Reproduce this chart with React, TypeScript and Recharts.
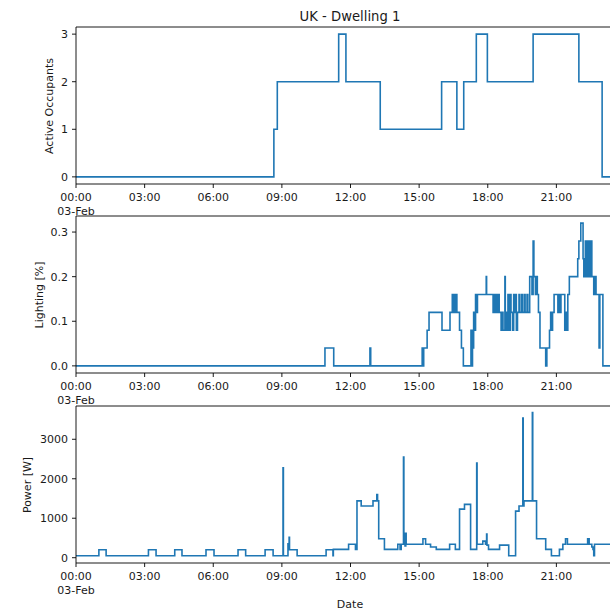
import { LineChart, Line, XAxis, YAxis, ReferenceLine } from "recharts";

// step data: [time "HH:MM", value] — each value holds until the next time
const occupants: [string, number][] = [
  ["00:00", 0], ["08:39", 1], ["08:48", 2], ["11:29", 3], ["11:48", 2],
  ["13:18", 1], ["15:59", 2], ["16:39", 1], ["16:57", 2], ["17:30", 3],
  ["17:59", 2], ["19:59", 3], ["21:59", 2], ["23:00", 0], ["24:00", 0],
];

const lighting: [string, number][] = [
  ["00:00", 0], ["10:53", 0.04], ["11:16", 0], ["12:51", 0.04], ["12:53", 0],
  ["15:08", 0.04], ["15:10", 0], ["15:12", 0.04], ["15:21", 0.08], ["15:26", 0.12],
  ["16:00", 0.08], ["16:21", 0.12], ["16:27", 0.16], ["16:29", 0.12], ["16:32", 0.16],
  ["16:34", 0.12], ["16:37", 0.16], ["16:39", 0.12], ["16:46", 0.08], ["16:51", 0.04],
  ["16:56", 0], ["17:16", 0.08], ["17:17", 0], ["17:20", 0.08], ["17:22", 0.04],
  ["17:23", 0.12], ["17:26", 0.08], ["17:28", 0.16], ["17:31", 0.12], ["17:33", 0.16],
  ["17:56", 0.2], ["17:57", 0.16], ["18:14", 0.12], ["18:16", 0.16], ["18:19", 0.12],
  ["18:21", 0.16], ["18:24", 0.12], ["18:27", 0.16], ["18:30", 0.12], ["18:35", 0.08],
  ["18:38", 0.12], ["18:40", 0.08], ["18:45", 0.2], ["18:46", 0.12], ["18:49", 0.08],
  ["18:53", 0.16], ["18:55", 0.08], ["18:59", 0.16], ["19:01", 0.12], ["19:05", 0.08],
  ["19:08", 0.16], ["19:10", 0.12], ["19:13", 0.16], ["19:15", 0.08], ["19:18", 0.12],
  ["19:22", 0.16], ["19:24", 0.12], ["19:29", 0.16], ["19:31", 0.12], ["19:36", 0.16],
  ["19:38", 0.12], ["19:43", 0.16], ["19:45", 0.12], ["19:50", 0.2], ["19:56", 0.16],
  ["19:59", 0.28], ["20:01", 0.2], ["20:05", 0.16], ["20:07", 0.2], ["20:10", 0.16],
  ["20:13", 0.12], ["20:17", 0.04], ["20:32", 0], ["20:35", 0.04], ["20:42", 0.08],
  ["20:45", 0.12], ["20:47", 0.08], ["20:50", 0.12], ["20:54", 0.16], ["21:04", 0.12],
  ["21:06", 0.16], ["21:10", 0.12], ["21:12", 0.16], ["21:22", 0.08], ["21:26", 0.12],
  ["21:28", 0.08], ["21:30", 0.16], ["21:34", 0.2], ["21:56", 0.24], ["21:59", 0.28],
  ["22:04", 0.32], ["22:10", 0.24], ["22:12", 0.2], ["22:16", 0.28], ["22:17", 0.2],
  ["22:21", 0.28], ["22:22", 0.2], ["22:26", 0.28], ["22:28", 0.2], ["22:32", 0.28],
  ["22:33", 0.2], ["22:38", 0.16], ["22:40", 0.2], ["22:44", 0.16], ["22:52", 0.04],
  ["22:54", 0.16], ["23:02", 0], ["24:00", 0],
];

const power: [string, number][] = [
  ["00:00", 50], ["01:00", 200], ["01:19", 50], ["03:10", 200], ["03:30", 50],
  ["04:19", 200], ["04:38", 50], ["05:41", 200], ["06:02", 50], ["07:05", 200],
  ["07:25", 50], ["08:16", 200], ["08:37", 50], ["09:03", 2280], ["09:04", 50],
  ["09:16", 350], ["09:19", 520], ["09:20", 200], ["09:40", 50], ["10:56", 200],
  ["11:14", 50], ["11:15", 210], ["11:55", 340], ["12:13", 210], ["12:17", 1440],
  ["12:28", 1310], ["12:59", 1440], ["13:09", 1600], ["13:11", 1440], ["13:14", 480],
  ["13:29", 210], ["14:04", 340], ["14:10", 210], ["14:13", 340], ["14:19", 2550],
  ["14:20", 340], ["14:21", 620], ["14:23", 300], ["14:25", 620], ["14:26", 340],
  ["15:10", 480], ["15:17", 340], ["15:30", 270], ["15:45", 210], ["16:20", 340],
  ["16:35", 210], ["16:46", 1230], ["16:59", 1350], ["17:15", 210], ["17:31", 2400],
  ["17:32", 340], ["17:47", 420], ["17:54", 340], ["17:57", 600], ["17:58", 320],
  ["18:02", 210], ["18:31", 320], ["18:55", 50], ["19:13", 1180], ["19:22", 1310],
  ["19:32", 3540], ["19:33", 1310], ["19:35", 1440], ["19:57", 3680], ["19:58", 1440],
  ["20:08", 480], ["20:32", 210], ["20:47", 50], ["21:08", 210], ["21:17", 340],
  ["21:24", 480], ["21:29", 340], ["22:22", 480], ["22:26", 340], ["22:33", 270],
  ["22:36", 210], ["22:38", 50], ["22:40", 340], ["24:00", 340],
];

const hourTicks = [0, 3, 6, 9, 12, 15, 18, 21];
const hourLabels = ["00:00", "03:00", "06:00", "09:00", "12:00", "15:00", "18:00", "21:00"];
const dateLabel = "03-Feb";

const BLUE = "#1f77b4";
const FONT = "DejaVu Sans";
const TXT = "#1a1a1a";

const toHours = (s: string) => {
  const [h, m] = s.split(":").map(Number);
  return h + m / 60;
};
const build = (rows: [string, number][]) => rows.map(([t, v]) => ({ t: toHours(t), v }));

function TimeTick(props: any) {
  const { x, y, payload } = props;
  const i = hourTicks.indexOf(payload.value);
  return (
    <text x={x} y={y + 13} textAnchor="middle" fontSize={11} fontFamily={FONT} fill={TXT}>
      <tspan x={x}>{hourLabels[i]}</tspan>
      {i === 0 && (
        <tspan x={x} dy={14}>
          {dateLabel}
        </tspan>
      )}
    </text>
  );
}

const PLOT_H = 157;

function Panel({
  top,
  rows,
  domain,
  ticks,
  fmt,
  label,
  labelX,
}: {
  top: number;
  rows: [string, number][];
  domain: [number, number];
  ticks: number[];
  fmt: (v: number) => string;
  label: string;
  labelX: number;
}) {
  const data = build(rows);
  return (
    <>
      <div style={{ position: "absolute", left: 0, top: top - 10 }}>
        <LineChart
          width={640}
          height={PLOT_H + 10 + 40}
          data={data}
          margin={{ top: 10, right: 15, bottom: 0, left: 0 }}
        >
          <XAxis
            dataKey="t"
            type="number"
            domain={[0, 24]}
            ticks={hourTicks}
            allowDataOverflow
            height={40}
            tickSize={4}
            tickMargin={0}
            tick={<TimeTick />}
            stroke="#000"
            axisLine={{ stroke: "#000", strokeWidth: 0.9 }}
            tickLine={{ stroke: "#000", strokeWidth: 0.9 }}
          />
          <YAxis
            type="number"
            domain={domain}
            ticks={ticks}
            allowDataOverflow
            width={76}
            tickSize={4}
            tickMargin={4}
            tickFormatter={fmt}
            tick={{ fontSize: 11, fontFamily: FONT, fill: TXT }}
            axisLine={{ stroke: "#000", strokeWidth: 0.9 }}
            tickLine={{ stroke: "#000", strokeWidth: 0.9 }}
          />
          <ReferenceLine y={domain[1]} stroke="#000" strokeWidth={0.9} />
          <Line
            type="stepAfter"
            dataKey="v"
            stroke={BLUE}
            strokeWidth={1.6}
            dot={false}
            isAnimationActive={false}
          />
        </LineChart>
      </div>
      <div
        style={{
          position: "absolute",
          left: labelX,
          top: top + PLOT_H / 2,
          transform: "translate(-50%, -50%) rotate(-90deg)",
          whiteSpace: "nowrap",
          fontFamily: FONT,
          fontSize: 11,
          color: TXT,
        }}
      >
        {label}
      </div>
    </>
  );
}

export default function App() {
  return (
    <div
      style={{
        position: "absolute",
        left: 0,
        top: 0,
        width: 610,
        height: 610,
        overflow: "hidden",
        background: "#fff",
      }}
    >
      <div
        style={{
          position: "absolute",
          left: 350,
          top: 16,
          transform: "translate(-50%, -50%)",
          whiteSpace: "nowrap",
          fontFamily: FONT,
          fontSize: 13.2,
          color: TXT,
        }}
      >
        UK - Dwelling 1
      </div>
      <Panel
        top={27}
        rows={occupants}
        domain={[-0.15, 3.15]}
        ticks={[0, 1, 2, 3]}
        fmt={(v) => String(v)}
        label="Active Occupants"
        labelX={49}
      />
      <Panel
        top={216}
        rows={lighting}
        domain={[-0.016, 0.336]}
        ticks={[0, 0.1, 0.2, 0.3]}
        fmt={(v) => v.toFixed(1)}
        label="Lighting [%]"
        labelX={39}
      />
      <Panel
        top={406}
        rows={power}
        domain={[-134, 3843]}
        ticks={[0, 1000, 2000, 3000]}
        fmt={(v) => String(v)}
        label="Power [W]"
        labelX={27}
      />
      <div
        style={{
          position: "absolute",
          left: 350,
          top: 604,
          transform: "translate(-50%, -50%)",
          whiteSpace: "nowrap",
          fontFamily: FONT,
          fontSize: 11,
          color: TXT,
        }}
      >
        Date
      </div>
    </div>
  );
}
